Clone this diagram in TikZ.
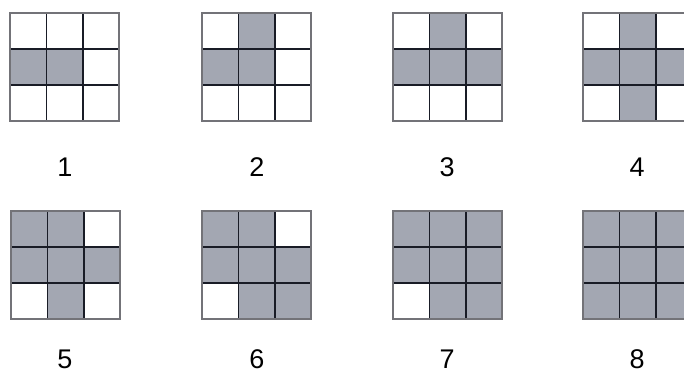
\documentclass[tikz,border=0pt]{standalone}
\usepackage{fontspec}
\setmainfont{Liberation Sans}
\definecolor{cellfill}{RGB}{163,167,178}
\definecolor{gridline}{RGB}{25,28,38}
\definecolor{rimline}{RGB}{115,115,120}
\newcommand\drawgrid[3]{%
  \begin{scope}[shift={(#1,#2)}]
    \foreach \r/\c in {#3}{\fill[cellfill] ({(\c-1)*36.4},{(\r-1)*36}) rectangle ++(36.4,36);}
    \foreach \i in {1,2}{%
      \draw[gridline,line width=1.4pt] ({\i*36.4},0) -- ({\i*36.4},108);
      \draw[gridline,line width=1.4pt] (0,{\i*36}) -- (109.2,{\i*36});}
    \draw[rimline,line width=1.6pt] (0,0) rectangle (109.2,108);
  \end{scope}}
\begin{document}
\begin{tikzpicture}[x=1pt,y=-1pt,
  lab/.style={font=\fontsize{27}{29}\selectfont, inner sep=0pt, text=black}]
\useasboundingbox (0,0) rectangle (684,375);
\fill[white] (0,0) rectangle (684,375);
\drawgrid{10}{13}{2/1,2/2}
\drawgrid{202}{13}{1/2,2/1,2/2}
\drawgrid{393}{13}{1/2,2/1,2/2,2/3}
\drawgrid{583}{13}{1/2,2/1,2/2,2/3,3/2}
\drawgrid{11}{211}{1/1,1/2,2/1,2/2,2/3,3/2}
\drawgrid{202}{211}{1/1,1/2,2/1,2/2,2/3,3/2,3/3}
\drawgrid{393}{211}{1/1,1/2,1/3,2/1,2/2,2/3,3/2,3/3}
\drawgrid{583}{211}{1/1,1/2,1/3,2/1,2/2,2/3,3/1,3/2,3/3}
\node[lab] (l1) at (65,167) {1};
\node[lab] (l2) at (257,167) {2};
\node[lab] (l3) at (447,167) {3};
\node[lab] (l4) at (637,167) {4};
\node[lab] (l5) at (65,359) {5};
\node[lab] (l6) at (257,359) {6};
\node[lab] (l7) at (447,359) {7};
\node[lab] (l8) at (637,359) {8};
\end{tikzpicture}
\end{document}
